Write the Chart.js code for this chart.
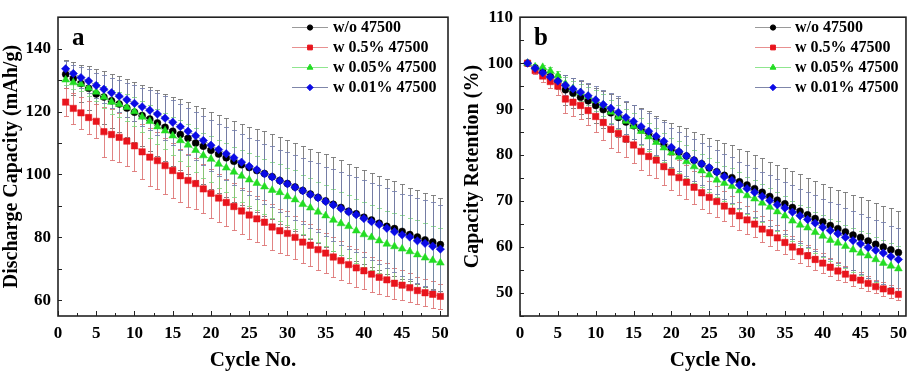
<!DOCTYPE html>
<html><head><meta charset="utf-8">
<script src="https://cdn.jsdelivr.net/npm/chart.js@4.4.0/dist/chart.umd.min.js"></script>
<style>
html,body{margin:0;padding:0;background:#fff;width:914px;height:375px;overflow:hidden}
#wa{position:absolute;left:0;top:0;width:457px;height:375px}
#wb{position:absolute;left:457px;top:0;width:457px;height:375px}
</style></head><body>
<div id="wa"><canvas id="ca" width="457" height="375"></canvas></div>
<div id="wb"><canvas id="cb" width="457" height="375"></canvas></div>
<script>
// ---------- DATA ----------
const cycles = [1,2,3,4,5,6,7,8,9,10,11,12,13,14,15,16,17,18,19,20,21,22,23,24,25,26,27,28,29,30,31,32,33,34,35,36,37,38,39,40,41,42,43,44,45,46,47,48,49,50];
const seriesNames = ['w/o 47500','w 0.5% 47500','w 0.05% 47500','w 0.01% 47500'];

// panel a: discharge capacity (mAh/g)
const capWo   = [131.9,130.5,128.9,127.4,125.6,124.6,123.4,122.4,121.1,119.8,118.75,117.6,116.4,115.0,113.75,112.7,111.5,110.0,109.0,107.7,106.5,105.3,104.2,103.1,102.2,101.25,100.3,99.3,98.1,97.1,96.0,94.9,93.75,92.7,91.6,90.5,89.5,88.3,87.5,86.4,85.5,84.5,83.5,82.8,81.9,80.9,80.1,79.2,78.5,77.7];
const capW05  = [123.0,121.0,119.6,118.1,116.9,113.6,112.7,111.8,110.6,109.1,107.2,105.5,104.4,102.8,101.25,99.6,98.1,97.1,95.4,94.0,92.5,91.1,89.8,88.4,87.1,85.9,84.8,83.3,82.1,81.25,80.0,78.5,77.5,76.1,75.0,73.75,72.6,71.35,70.3,69.4,68.3,67.3,66.5,65.4,64.8,64.0,63.1,62.4,61.9,61.25];
const capW005 = [130.1,129.2,128.75,127.5,126.25,124.6,123.0,122.3,121.4,120.0,118.3,116.9,115.2,113.9,112.3,110.8,109.4,107.7,106.0,104.9,103.3,102.1,100.8,99.5,98.3,97.2,96.1,95.0,94.3,93.0,92.0,90.5,89.4,88.1,86.9,85.5,84.4,83.5,82.1,80.9,80.0,78.95,77.9,77.1,76.35,75.5,74.5,73.5,72.7,71.9];
const capW001 = [133.6,132.1,130.8,129.7,128.3,127.1,126.0,124.9,123.75,122.6,121.5,120.4,119.2,117.9,116.6,115.2,113.75,112.3,110.8,109.3,107.9,106.6,105.3,103.9,102.6,101.5,100.2,99.2,98.0,97.0,95.9,94.8,93.6,92.6,91.4,90.3,89.2,88.1,87.2,86.0,85.0,84.1,82.9,81.8,80.8,80.1,78.9,78.1,77.2,76.25];
// panel a: error bars (±)
const capErrWo   = [4.4,5.2,6.0,7.0,8.0,8.4,8.6,8.9,9.2,9.5,9.8,10.1,10.4,10.7,11.0,11.2,11.5,11.8,12.0,12.2,12.4,12.6,12.8,12.9,13.0,13.2,13.4,13.6,13.7,13.8,14.0,14.2,14.4,14.6,14.8,14.9,15.0,15.0,15.0,15.0,15.0,15.0,15.0,15.0,15.0,14.9,14.9,14.9,14.9,14.8];
const capErrW05  = [4.5,4.8,5.0,5.2,5.4,8.0,8.0,7.8,7.8,8.0,8.8,9.2,9.0,8.9,8.6,8.4,8.3,8.0,7.8,7.8,7.6,7.6,7.4,7.4,7.6,7.4,7.2,7.2,7.0,7.0,6.8,6.8,6.6,6.6,6.4,6.4,6.2,6.0,6.0,5.8,5.6,5.4,5.2,5.0,4.8,4.6,4.4,4.3,4.2,4.0];
const capErrW005 = [1.5,1.9,2.2,2.6,3.0,3.4,3.7,4.0,4.3,4.6,4.9,5.2,5.5,5.8,6.1,6.4,6.7,7.0,7.2,7.4,7.6,7.8,8.0,8.2,8.4,8.6,8.8,9.0,9.1,9.2,9.3,9.4,9.5,9.6,9.7,9.8,9.9,10.0,10.1,10.2,10.3,10.4,10.5,10.6,10.7,10.8,10.9,11.0,11.0,11.1];
const capErrW001 = [2.4,2.8,3.3,3.7,4.1,4.5,4.8,5.1,5.4,5.7,6.0,6.3,6.6,6.9,7.1,7.3,7.5,7.7,7.9,8.1,8.3,8.5,8.7,8.9,9.1,9.3,9.5,9.7,9.9,10.1,10.3,10.5,10.7,10.9,11.1,11.3,11.5,11.7,11.9,12.1,12.3,12.5,12.7,12.9,13.1,13.3,13.5,13.7,13.9,14.1];

// panel b: capacity retention (%)
const retWo   = [100,99.0,98.1,97.1,96.0,94.2,93.5,92.6,91.8,90.8,89.9,89.2,88.2,87.2,86.4,85.6,84.7,83.5,82.3,81.4,80.6,79.8,78.9,78.1,77.2,76.4,75.6,75.1,74.2,73.5,72.7,71.9,71.0,70.2,69.4,68.6,67.8,67.0,66.2,65.5,64.7,64.0,63.3,62.6,62.1,61.3,60.6,60.0,59.4,58.8];
const retW05  = [100,98.4,97.2,96.0,95.0,92.2,91.5,90.8,89.7,88.4,87.1,85.6,84.7,83.5,82.2,80.8,79.7,78.9,77.5,76.3,75.1,74.1,73.0,71.8,70.8,69.9,68.9,67.8,66.8,65.9,65.0,63.9,63.1,62.0,61.0,60.0,59.0,58.1,57.3,56.5,55.6,54.8,54.1,53.3,52.8,52.1,51.4,50.9,50.4,49.7];
const retW005 = [100,99.2,99.1,98.3,97.3,95.5,94.5,93.6,92.8,91.9,90.9,89.4,88.3,87.4,86.3,85.2,84.0,82.8,81.6,80.5,79.6,78.6,77.5,76.6,75.7,74.6,73.9,73.2,72.3,71.2,70.5,69.6,68.7,67.7,66.8,65.7,64.8,64.2,63.2,62.4,61.5,60.9,60.2,59.4,58.7,58.1,57.3,56.5,55.9,55.3];
const retW001 = [100,98.9,97.9,97.0,96.1,95.2,94.4,93.7,92.9,92.0,91.0,90.2,89.3,88.2,87.3,86.2,85.2,84.1,83.0,81.7,80.8,79.8,78.9,78.1,77.3,76.3,75.3,74.5,73.5,72.7,71.9,71.0,70.1,69.2,68.5,67.6,66.8,66.0,65.2,64.3,63.6,62.9,62.1,61.4,60.7,59.9,59.3,58.7,57.95,57.3];
// panel b: error bars (±)
const retErrWo   = [0,0.5,0.9,1.2,1.7,3.2,3.3,3.6,3.7,3.8,4.0,4.1,4.2,4.3,4.4,4.6,4.8,5.0,5.3,5.6,5.8,6.0,6.2,6.4,6.6,6.8,7.0,7.1,7.2,7.3,7.4,7.5,7.6,7.7,7.8,7.9,8.0,8.1,8.2,8.3,8.4,8.5,8.6,8.7,8.8,8.9,9.0,9.0,9.1,9.1];
const retErrW05  = [0,0.8,1.2,1.5,2.0,3.0,3.0,3.0,3.2,3.4,3.8,4.0,4.0,4.0,4.0,4.0,4.0,3.9,3.9,3.8,3.8,3.7,3.6,3.6,3.5,3.4,3.3,3.2,3.1,3.0,2.9,2.8,2.8,2.7,2.6,2.5,2.4,2.3,2.2,2.1,2.0,1.9,1.8,1.8,1.7,1.6,1.5,1.5,1.4,1.3];
const retErrW005 = [0,0.4,0.6,0.8,1.0,1.4,1.6,1.8,2.0,2.2,2.4,2.5,2.6,2.7,2.8,2.9,3.0,3.1,3.2,3.3,3.4,3.5,3.6,3.6,3.7,3.8,3.8,3.9,4.0,4.0,4.1,4.2,4.2,4.3,4.3,4.4,4.4,4.5,4.5,4.6,4.6,4.7,4.7,4.8,4.8,4.9,4.9,5.0,5.0,5.0];
const retErrW001 = [0,0.5,0.8,1.1,1.4,2.2,2.4,2.6,2.8,3.0,3.2,3.4,3.5,3.6,3.7,3.8,3.9,4.0,4.1,4.2,4.3,4.4,4.5,4.6,4.7,4.8,4.9,5.0,5.1,5.2,5.3,5.4,5.5,5.6,5.7,5.8,5.9,6.0,6.1,6.2,6.3,6.4,6.4,6.5,6.5,6.6,6.6,6.7,6.7,6.8];

const xTickLabels   = [0,5,10,15,20,25,30,35,40,45,50];
const capTickLabels = [60,80,100,120,140];
const retTickLabels = [50,60,70,80,90,100,110];

// ---------- STYLES ----------
const FONT = "'Liberation Serif','Times New Roman',serif";
const markerColors = ['#000000','#e8141c','#22dd22','#0a0ae6'];
const lineColors   = ['#9a9a9a','#e89090','#8fe68f','#7f86aa'];
const errColors    = ['rgba(110,110,110,0.85)','rgba(220,110,110,0.85)','rgba(120,215,120,0.8)','rgba(115,125,170,0.85)'];
const pointStyles  = ['circle','rect','triangle','rectRot'];
const pointRadii   = [3.5,4.5,4.5,4.2];
const drawOrder    = [4,3,2,1];

function makeDatasets(valueArrays, errArrays){
  return valueArrays.map((vals,i)=>({
    label: seriesNames[i],
    data: cycles.map((c,j)=>({x:c,y:vals[j]})),
    errors: errArrays[i],
    errColor: errColors[i],
    borderColor: lineColors[i],
    borderWidth: 1,
    backgroundColor: markerColors[i],
    pointBackgroundColor: markerColors[i],
    pointBorderColor: markerColors[i],
    pointBorderWidth: 0.5,
    pointStyle: pointStyles[i],
    pointRadius: pointRadii[i],
    order: drawOrder[i],
    tension: 0
  }));
}

// ---------- PLUGINS ----------
const errorBarPlugin = {
  id:'errorBars',
  beforeDatasetsDraw(chart){
    const {ctx, chartArea:a, scales:{x,y}} = chart;
    ctx.save();
    ctx.beginPath(); ctx.rect(a.left,a.top,a.right-a.left,a.bottom-a.top); ctx.clip();
    ctx.lineWidth = 1;
    chart.data.datasets.forEach(ds=>{
      if(!ds.errors) return;
      ctx.strokeStyle = ds.errColor;
      ds.data.forEach((p,j)=>{
        const e = ds.errors[j]; if(!e) return;
        const px = Math.round(x.getPixelForValue(p.x))+0.5;
        const yt = Math.round(y.getPixelForValue(p.y+e))+0.5;
        const yb = Math.round(y.getPixelForValue(p.y-e))+0.5;
        ctx.beginPath();
        ctx.moveTo(px,yt); ctx.lineTo(px,yb);
        ctx.moveTo(px-2.5,yt); ctx.lineTo(px+2.5,yt);
        ctx.moveTo(px-2.5,yb); ctx.lineTo(px+2.5,yb);
        ctx.stroke();
      });
    });
    ctx.restore();
  }
};

const framePlugin = {
  id:'frame',
  afterDraw(chart, args, o){
    const {ctx, chartArea:a, scales:{x,y}} = chart;
    ctx.save();
    ctx.strokeStyle = '#222';
    ctx.lineWidth = 1;
    ctx.beginPath();
    for(let v=x.min; v<=x.max+1e-9; v+=o.xStep){
      const px = Math.round(x.getPixelForValue(v))+0.5;
      const major = Math.abs(v/ (o.xStep*2) - Math.round(v/(o.xStep*2)))<1e-6;
      ctx.moveTo(px,a.bottom); ctx.lineTo(px,a.bottom-(major?5:3));
    }
    const y0 = Math.ceil(y.min/o.yStep)*o.yStep;
    for(let v=y0; v<=y.max+1e-9; v+=o.yStep){
      const py = Math.round(y.getPixelForValue(v))+0.5;
      ctx.moveTo(a.left,py); ctx.lineTo(a.left+4,py);
    }
    ctx.stroke();
    ctx.lineWidth = 1.6;
    ctx.strokeRect(a.left,a.top,a.right-a.left,a.bottom-a.top);
    // panel letter
    ctx.fillStyle = '#000';
    ctx.font = "bold 25px "+FONT;
    ctx.textBaseline = 'middle';
    ctx.textAlign = 'left';
    ctx.fillText(o.letter, a.left+o.letterDx, a.top+21);
    ctx.restore();
  }
};

const legendPlugin = {
  id:'legendBox',
  afterDraw(chart, args, o){
    const ctx = chart.ctx;
    ctx.save();
    chart.data.datasets.forEach((ds,i)=>{
      const yy = o.y0 + i*o.dy;
      ctx.strokeStyle = ds.borderColor; ctx.lineWidth = 1;
      ctx.beginPath(); ctx.moveTo(o.lineX0, yy+0.5); ctx.lineTo(o.lineX1, yy+0.5); ctx.stroke();
      ctx.fillStyle = ds.pointBackgroundColor; ctx.strokeStyle = ds.pointBorderColor;
      Chart.helpers.drawPoint(ctx, {pointStyle: ds.pointStyle, radius: ds.pointRadius*0.75, rotation:0, borderWidth:0.5}, (o.lineX0+o.lineX1)/2, yy+0.5);
      ctx.fillStyle = '#000';
      ctx.font = "bold 16px "+FONT;
      ctx.textBaseline = 'middle'; ctx.textAlign = 'left';
      ctx.fillText(ds.label, o.textX, yy+1);
    });
    ctx.restore();
  }
};

function makeChart(id, datasets, yMin, yMax, yTicks, yTitle, yWidth, padRight, letter, legendOpts, yStep, titlePadY){
  return new Chart(document.getElementById(id), {
    type:'line',
    data:{datasets},
    plugins:[errorBarPlugin, framePlugin, legendPlugin],
    options:{
      responsive:false, animation:false, devicePixelRatio:1,
      layout:{padding:{left:0,right:padRight,top:11,bottom:0}},
      plugins:{
        legend:{display:false}, tooltip:{enabled:false},
        frame:{xStep:2.5, yStep:yStep, letter:letter, letterDx:14},
        legendBox:legendOpts
      },
      scales:{
        x:{
          type:'linear', min:0, max:51,
          afterFit(s){ s.height = 59; },
          afterBuildTicks(s){ s.ticks = xTickLabels.map(v=>({value:v})); },
          grid:{display:false, drawTicks:false}, border:{display:false},
          ticks:{padding:7, color:'#000', font:{family:FONT, size:17, weight:'bold'}, maxRotation:0, autoSkip:false},
          title:{display:true, text:'Cycle No.', color:'#000', font:{family:FONT, size:21, weight:'bold'}, padding:{top:0,bottom:2}}
        },
        y:{
          type:'linear', min:yMin, max:yMax,
          afterFit(s){ s.width = yWidth; },
          afterBuildTicks(s){ s.ticks = yTicks.map(v=>({value:v})); },
          grid:{display:false, drawTicks:false}, border:{display:false},
          ticks:{padding:7, color:'#000', font:{family:FONT, size:17, weight:'bold'}, autoSkip:false},
          title:{display:true, text:yTitle, color:'#000', font:{family:FONT, size:20, weight:'bold'}, padding:{top:titlePadY,bottom:0}}
        }
      }
    }
  });
}

makeChart('ca', makeDatasets([capWo,capW05,capW005,capW001],[capErrWo,capErrW05,capErrW005,capErrW001]),
  55,150,capTickLabels,'Discharge Capacity (mAh/g)',58,9,'a',
  {lineX0:292, lineX1:328, textX:333, y0:27, dy:20}, 10, 0);

makeChart('cb', makeDatasets([retWo,retW05,retW005,retW001],[retErrWo,retErrW05,retErrW005,retErrW001]),
  45,110,retTickLabels,'Capacity Retention (%)',63,5,'b',
  {lineX0:298, lineX1:334, textX:338, y0:27, dy:20}, 5, 4);
</script>
</body></html>
